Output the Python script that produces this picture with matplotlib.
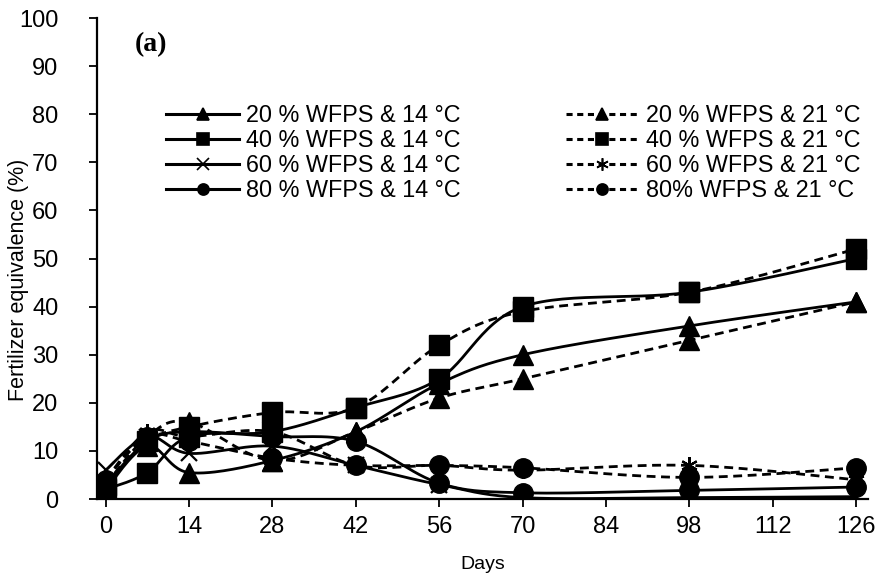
import numpy as np
import matplotlib
matplotlib.use("Agg")
import matplotlib.pyplot as plt

days = [0, 7, 14, 28, 42, 56, 70, 98, 126]
w20_t14 = [2, 11, 5.5, 8, 14, 24, 30, 36, 41]
w20_t21 = [3, 13, 16, 8, 14, 21, 25, 33, 41]
w40_t14 = [2, 5.5, 13, 14, 19, 25, 40, 43, 50]
w40_t21 = [3, 12, 15, 18, 19, 32, 39, 43, 52]
w60_t14 = [6, 13, 9.5, 11, 7, 3, 0.3, 0.3, 0.5]
w60_t21 = [4, 14, 13, 14, 7, 7, 6, 7, 4]
w80_t14 = [3, 12, 14, 13, 12, 3.3, 1.3, 1.8, 2.5]
w80_t21 = [4, 13, 12, 8.5, 7, 7, 6.5, 4.5, 6.5]

labels14 = ["20 % WFPS & 14 °C", "40 % WFPS & 14 °C", "60 % WFPS & 14 °C", "80 % WFPS & 14 °C"]
labels21 = ["20 % WFPS & 21 °C", "40 % WFPS & 21 °C", "60 % WFPS & 21 °C", "80% WFPS & 21 °C"]
xticks = [0, 14, 28, 42, 56, 70, 84, 98, 112, 126]
yticks = list(range(0, 101, 10))

plt.rcParams['font.family'] = ['Liberation Sans', 'DejaVu Sans']


def smooth(x, y, n=30):
    # Excel-style smoothed line (Bezier with Catmull-Rom control points)
    x = np.asarray(x, float); y = np.asarray(y, float)
    P = np.column_stack([x, y])
    out = [P[0]]
    for i in range(len(P) - 1):
        p0 = P[i - 1] if i > 0 else P[i]
        p1 = P[i]; p2 = P[i + 1]
        p3 = P[i + 2] if i + 2 < len(P) else P[i + 1]
        c1 = p1 + (p2 - p0) / 6.0
        c2 = p2 - (p3 - p1) / 6.0
        t = np.linspace(0, 1, n)[1:, None]
        seg = ((1 - t) ** 3) * p1 + 3 * ((1 - t) ** 2) * t * c1 + 3 * (1 - t) * t ** 2 * c2 + t ** 3 * p2
        out.extend(seg)
    out = np.array(out)
    return out[:, 0], out[:, 1]


asterisk = (6, 2, 0)
fig = plt.figure(figsize=(8.85, 5.83), dpi=100)
ax = fig.add_axes([0.110, 0.144, 0.871, 0.825])

series = [
    (w20_t14, '^', '-', labels14[0]),
    (w40_t14, 's', '-', labels14[1]),
    (w60_t14, 'x', '-', labels14[2]),
    (w80_t14, 'o', '-', labels14[3]),
    (w20_t21, '^', '--', labels21[0]),
    (w40_t21, 's', '--', labels21[1]),
    (w60_t21, asterisk, '--', labels21[2]),
    (w80_t21, 'o', '--', labels21[3]),
]

handles = []
for vals, mk, ls, lab in series:
    sx, sy = smooth(days, vals)
    kw = dict(color='black', lw=2.0)
    if ls == '--':
        kw['dashes'] = (3.2, 2.0)
    ax.plot(sx, sy, **kw)
    ms = 14 if mk not in ('x', asterisk) else 12
    mew = 1.6 if mk in ('x', asterisk) else 1
    ax.plot(days, vals, linestyle='none', marker=mk, color='black', markersize=ms,
            markeredgewidth=mew)
    h, = ax.plot([], [], color='black', lw=2.2, marker=mk, markersize=8 if mk not in ('x', asterisk) else 9,
                 markeredgewidth=1.2, label=lab,
                 **({'dashes': (2.0, 1.5)} if ls == '--' else {}))
    handles.append(h)

ax.set_xlim(-1.4, 128)
ax.set_ylim(0, 100)
ax.set_xticks(xticks)
ax.set_yticks(yticks)
ax.tick_params(axis='both', labelsize=17, direction='out', length=6, width=1.3)
ax.tick_params(axis='x', pad=6)
ax.tick_params(axis='y', pad=22)
for s in ['top', 'right']:
    ax.spines[s].set_visible(False)
for s in ['left', 'bottom']:
    ax.spines[s].set_linewidth(1.6)
ax.set_xlabel('Days', fontsize=14, labelpad=13)
ax.set_ylabel('Fertilizer equivalence (%)', fontsize=15.5, va='center')
ax.yaxis.set_label_coords(-0.102, 0.455)

ax.text(0.048, 0.944, '(a)', transform=ax.transAxes, fontsize=20, fontweight='bold',
        family=['Liberation Serif', 'DejaVu Serif'], va='center', ha='left')

leg = ax.legend(handles=handles, ncol=2, loc='upper left', bbox_to_anchor=(0.077, 0.84),
                frameon=False, fontsize=16.8, handlelength=3.13, handletextpad=0.3,
                labelspacing=0.08, columnspacing=4.5, borderaxespad=0)

fig.savefig('out.png', dpi=100)
